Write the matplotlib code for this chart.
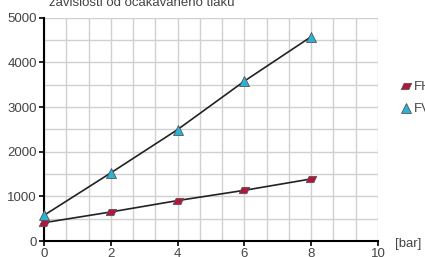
import matplotlib
matplotlib.use("Agg")
import matplotlib.pyplot as plt
from matplotlib.ticker import MultipleLocator
from matplotlib.path import Path
from matplotlib.lines import Line2D
import numpy as np

pressure = [0, 2, 4, 6, 8]
fh_values = [410, 650, 905, 1135, 1390]
fv_values = [575, 1525, 2495, 3580, 4575]
series_labels = ["FH", "FV"]
title_text = "závislosti od očakávaného tlaku"
x_ticks = [0, 2, 4, 6, 8, 10]
y_ticks = [0, 1000, 2000, 3000, 4000, 5000]
unit_label = "[bar]"

red = "#b3163c"
cyan = "#2ab3d9"
txt = "#444444"
fs = 9.5

para = Path([(-1.0, -0.6), (0.45, -0.6), (1.0, 0.6), (-0.45, 0.6), (-1.0, -0.6)],
            [Path.MOVETO, Path.LINETO, Path.LINETO, Path.LINETO, Path.CLOSEPOLY])

plt.rcParams['font.family'] = ['Liberation Sans', 'DejaVu Sans']
fig = plt.figure(figsize=(4.25, 2.57), dpi=100)
ax = fig.add_axes([44/425, 1-241/257, (378-44)/425, (241-17.7)/257])

ax.set_xlim(0, 10)
ax.set_ylim(0, 5000)
ax.set_xticks(x_ticks)
ax.set_yticks(y_ticks)
ax.xaxis.set_minor_locator(MultipleLocator(2/3))
ax.yaxis.set_minor_locator(MultipleLocator(500))
ax.grid(True, which='both', color='#d0d0d0', linewidth=1.0)
ax.set_axisbelow(True)
ax.tick_params(which='minor', length=0)
ax.tick_params(which='major', length=3.5, width=1.2, color='black', labelsize=fs,
               labelcolor=txt, pad=1.5)
for s in ['top', 'right']:
    ax.spines[s].set_visible(False)
for s in ['left', 'bottom']:
    ax.spines[s].set_linewidth(1.5)
    ax.spines[s].set_color('black')

ax.plot(pressure, fh_values, color='#222222', lw=1.2, marker=para, markersize=7.5,
        markerfacecolor=red, markeredgecolor='#555555', markeredgewidth=0.6, clip_on=False, zorder=3)
ax.plot(pressure, fv_values, color='#222222', lw=1.2, marker='^', markersize=7.5,
        markerfacecolor=cyan, markeredgecolor='#555555', markeredgewidth=0.6, clip_on=False, zorder=3)

handles = [Line2D([], [], linestyle='none', marker=para, markersize=7.5, markerfacecolor=red,
                  markeredgecolor='#555555', markeredgewidth=0.6),
           Line2D([], [], linestyle='none', marker='^', markersize=7.5, markerfacecolor=cyan,
                  markeredgecolor='#555555', markeredgewidth=0.6)]
fig.legend(handles, series_labels, loc='upper left', bbox_to_anchor=(401/425, 1-81/257),
           frameon=False, fontsize=fs, handlelength=0.8, handletextpad=0.15,
           labelspacing=0.75, borderpad=0, borderaxespad=0, labelcolor=txt)

fig.text(49/425, 1-6/257, title_text, fontsize=fs, color=txt, ha='left', va='baseline')
fig.text(395/425, 1-247/257, unit_label, fontsize=fs, color=txt, ha='left', va='baseline')

fig.savefig("out.png", dpi=100)
